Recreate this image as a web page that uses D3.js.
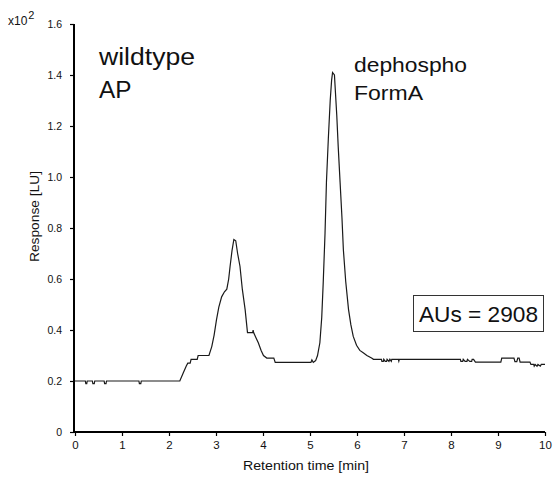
<!DOCTYPE html>
<html>
<head>
<meta charset="utf-8">
<script src="https://cdn.jsdelivr.net/npm/d3@7"></script>
<style>
  body { margin: 0; background: #fff; }
  svg { display: block; font-family: "Liberation Sans", Arial, sans-serif; }
</style>
</head>
<body>
<svg id="chart" width="555" height="480"></svg>
<script>
// retention time [min] and response [x10^2 LU]
const retentionTime = [0, 0.22, 0.23, 0.25, 0.26, 0.37, 0.38, 0.41, 0.42, 0.62, 0.63, 0.66, 0.67,
  1.36, 1.37, 1.40, 1.41, 2.23, 2.30, 2.37, 2.40, 2.45, 2.47, 2.60, 2.62, 2.85, 2.91, 2.96, 3.01,
  3.06, 3.12, 3.18, 3.23, 3.27, 3.30, 3.34, 3.38, 3.42, 3.46, 3.51, 3.56, 3.62, 3.67, 3.78, 3.79,
  3.80, 3.85, 3.90, 3.96, 4.01, 4.08, 4.23, 4.26, 5.02, 5.04, 5.07, 5.12, 5.16, 5.21, 5.25, 5.28,
  5.32, 5.35, 5.39, 5.43, 5.46, 5.48, 5.52, 5.57, 5.60, 5.64, 5.68, 5.71, 5.76, 5.82, 5.87, 5.92,
  5.99, 6.06, 6.14, 6.21, 6.31, 6.35, 6.52, 6.53, 6.56, 6.57, 6.60, 6.63, 6.64, 6.68, 6.70, 6.73,
  6.74, 6.88, 6.89, 6.90, 8.20, 8.21, 8.25, 8.26, 8.30, 8.34, 8.35, 8.40, 8.44, 8.45, 8.48, 8.52,
  9.06, 9.08, 9.34, 9.36, 9.40, 9.42, 9.45, 9.47, 9.68, 9.70, 9.76, 9.77, 9.79, 9.83, 9.85, 9.90,
  9.92, 10];
const response = [0.2, 0.2, 0.19, 0.19, 0.2, 0.2, 0.19, 0.19, 0.2, 0.2, 0.19, 0.19, 0.2,
  0.2, 0.19, 0.19, 0.2, 0.2, 0.23, 0.26, 0.27, 0.27, 0.285, 0.285, 0.30, 0.30, 0.335, 0.38, 0.44,
  0.49, 0.53, 0.55, 0.56, 0.60, 0.65, 0.71, 0.755, 0.75, 0.70, 0.65, 0.56, 0.48, 0.39, 0.39, 0.40,
  0.39, 0.37, 0.35, 0.32, 0.30, 0.29, 0.29, 0.273, 0.273, 0.283, 0.273, 0.28, 0.30, 0.35, 0.45, 0.58,
  0.78, 0.98, 1.15, 1.30, 1.38, 1.41, 1.40, 1.24, 1.12, 0.98, 0.84, 0.715, 0.59, 0.48, 0.42, 0.375,
  0.34, 0.32, 0.31, 0.30, 0.29, 0.285, 0.285, 0.277, 0.277, 0.285, 0.277, 0.277, 0.285, 0.277, 0.285, 0.277,
  0.285, 0.285, 0.278, 0.285, 0.285, 0.277, 0.277, 0.285, 0.277, 0.277, 0.285, 0.277, 0.277, 0.285, 0.285, 0.274,
  0.274, 0.29, 0.29, 0.276, 0.276, 0.29, 0.29, 0.274, 0.274, 0.265, 0.265, 0.258, 0.265, 0.258, 0.265, 0.258,
  0.265, 0.265];

const xTicks = [0, 1, 2, 3, 4, 5, 6, 7, 8, 9, 10];
const yTicks = [0, 0.2, 0.4, 0.6, 0.8, 1.0, 1.2, 1.4, 1.6];
const yTickLabels = ["0", "0.2", "0.4", "0.6", "0.8", "1.0", "1.2", "1.4", "1.6"];

const sampleName = ["wildtype", "AP"];
const peakName = ["dephospho", "FormA"];
const areaLabel = "AUs = 2908";

const svg = d3.select("#chart");
const x = d3.scaleLinear().domain([0, 10]).range([75, 545]);
const y = d3.scaleLinear().domain([0, 1.6]).range([432, 24]);

// y axis
const yAxis = d3.axisLeft(y)
  .tickValues(yTicks)
  .tickFormat((d, i) => yTickLabels[i])
  .tickSize(4)
  .tickPadding(8);
const gy = svg.append("g").attr("transform", "translate(74,0)").call(yAxis);
gy.select(".domain").attr("stroke", "#000").attr("stroke-width", 2).attr("d", "M0," + y(1.6) + "V" + (y(0) + 1));
gy.selectAll(".tick line").attr("stroke", "#000").attr("stroke-width", 1.2);
gy.selectAll(".tick text").attr("font-size", "10.5px").attr("fill", "#111")
  .attr("font-family", "Liberation Sans, Arial, sans-serif");

// x axis
const xAxis = d3.axisBottom(x)
  .tickValues(xTicks)
  .tickSize(4)
  .tickPadding(5);
const gx = svg.append("g").attr("transform", "translate(0,432)").call(xAxis);
gx.select(".domain").attr("stroke", "#000").attr("stroke-width", 2).attr("d", "M73,0H" + x(10));
gx.selectAll(".tick line").attr("stroke", "#000").attr("stroke-width", 1.2);
gx.selectAll(".tick text").attr("font-size", "11.5px").attr("fill", "#111")
  .attr("font-family", "Liberation Sans, Arial, sans-serif");

// trace
const pts = retentionTime.map((t, i) => [t, response[i]]);
const line = d3.line().x(d => x(d[0])).y(d => y(d[1]));
svg.append("path")
  .datum(pts)
  .attr("d", line)
  .attr("fill", "none")
  .attr("stroke", "#1a1a1a")
  .attr("stroke-width", 1.2);

// axis titles
svg.append("text")
  .attr("x", 243).attr("y", 470)
  .attr("font-size", "12.5px")
  .attr("fill", "#111")
  .attr("textLength", 126)
  .attr("lengthAdjust", "spacingAndGlyphs")
  .text("Retention time [min]");

svg.append("text")
  .attr("transform", "translate(39,262) rotate(-90)")
  .attr("font-size", "12.5px")
  .attr("fill", "#111")
  .attr("textLength", 91)
  .attr("lengthAdjust", "spacingAndGlyphs")
  .text("Response [LU]");

// multiplier
const mult = svg.append("text").attr("x", 8).attr("y", 25).attr("font-size", "12px").attr("fill", "#111");
mult.append("tspan").text("x10");
mult.append("tspan").attr("dx", 1).attr("dy", -6).attr("font-size", "11px").text("2");

// annotations
const sampleWidth = [96, 32.5];
svg.selectAll(".sample")
  .data(sampleName)
  .enter()
  .append("text")
  .attr("x", 99)
  .attr("y", (d, i) => 65 + i * 33.3)
  .attr("font-size", "23px")
  .attr("fill", "#111")
  .attr("textLength", (d, i) => sampleWidth[i])
  .attr("lengthAdjust", "spacingAndGlyphs")
  .text(d => d);

const peakWidth = [113, 69];
svg.selectAll(".peak")
  .data(peakName)
  .enter()
  .append("text")
  .attr("x", 354)
  .attr("y", (d, i) => 72 + i * 28)
  .attr("font-size", "19.5px")
  .attr("fill", "#111")
  .attr("textLength", (d, i) => peakWidth[i])
  .attr("lengthAdjust", "spacingAndGlyphs")
  .text(d => d);

svg.append("rect")
  .attr("x", 413.5).attr("y", 295.5)
  .attr("width", 130).attr("height", 36)
  .attr("fill", "#fff")
  .attr("stroke", "#333")
  .attr("stroke-width", 1);
svg.append("text")
  .attr("x", 419).attr("y", 322)
  .attr("font-size", "21.5px")
  .attr("fill", "#111")
  .attr("textLength", 119)
  .attr("lengthAdjust", "spacingAndGlyphs")
  .text(areaLabel);
</script>
</body>
</html>
